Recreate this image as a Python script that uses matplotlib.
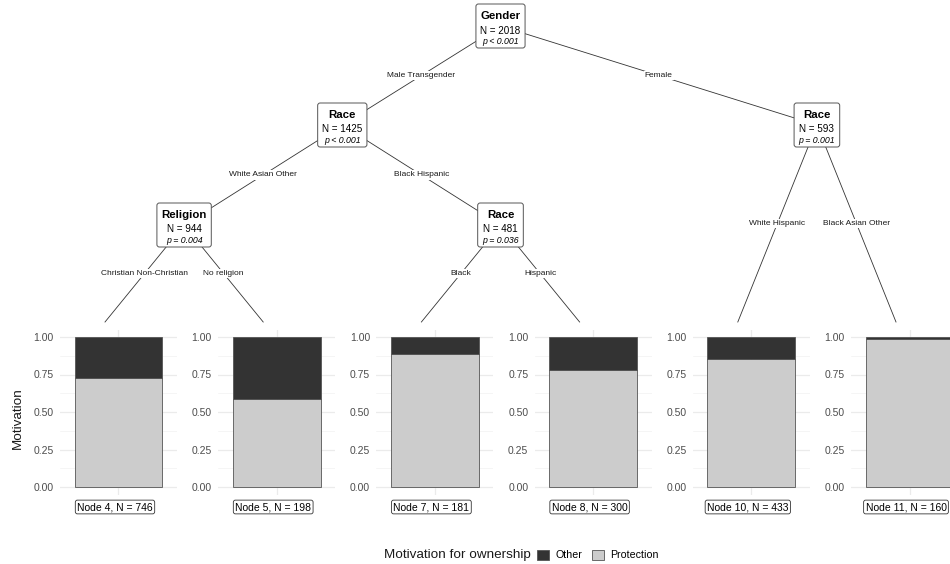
import matplotlib
matplotlib.use("Agg")
import matplotlib.pyplot as plt
from matplotlib.patches import FancyBboxPatch

plt.rcParams['font.family'] = ['Liberation Sans', 'DejaVu Sans']

# ---- tree data ----
# inner nodes: id -> (split variable, N, p-value text, children)
node_ids = [1, 2, 3, 6, 9]
node_vars = ["Gender", "Race", "Religion", "Race", "Race"]
node_n = [2018, 1425, 944, 481, 593]
node_p = ["p < 0.001", "p < 0.001", "p = 0.004", "p = 0.036", "p = 0.001"]
node_children = [(2, 9), (3, 6), (4, 5), (7, 8), (10, 11)]
edge_labels = {
    (1, 2): "Male Transgender", (1, 9): "Female",
    (2, 3): "White Asian Other", (2, 6): "Black Hispanic",
    (3, 4): "Christian Non-Christian", (3, 5): "No religion",
    (6, 7): "Black", (6, 8): "Hispanic",
    (9, 10): "White Hispanic", (9, 11): "Black Asian Other",
}

# terminal nodes
leaf_ids = [4, 5, 7, 8, 10, 11]
leaf_n = [746, 198, 181, 300, 433, 160]
share_protection = [0.730, 0.584, 0.885, 0.780, 0.853, 0.988]
share_other = [1 - s for s in share_protection]
categories = ["Other", "Protection"]
colors = {"Other": "#333333", "Protection": "#cccccc"}

yticks = [0.0, 0.25, 0.5, 0.75, 1.0]
ytick_labels = ["0.00", "0.25", "0.50", "0.75", "1.00"]

# ---- layout (pixels) ----
W, H = 950, 564
fig = plt.figure(figsize=(W / 100, H / 100), dpi=100)

panel_x0, panel_step, panel_w = 118.5, 158.2, 117.0
panel_top, panel_bot = 329.5, 494.5
level_y = {0: 26, 1: 125, 2: 225, 3: 322}
leaf_offset = -13.5


def fx(px):
    return px / W


def fy(py):
    return 1 - py / H


tree_ax = fig.add_axes([0, 0, 1, 1])
tree_ax.set_xlim(0, W)
tree_ax.set_ylim(H, 0)
tree_ax.axis("off")

# node positions
pos = {}
for i, lid in enumerate(leaf_ids):
    pos[lid] = (panel_x0 + i * panel_step + leaf_offset, level_y[3])

children = dict(zip(node_ids, node_children))


def leaf_range(nid):
    if nid in leaf_ids:
        return [pos[nid][0]]
    out = []
    for c in children[nid]:
        out += leaf_range(c)
    return out


def depth(nid, d=0, cur=1):
    if cur == nid:
        return d
    if cur in leaf_ids:
        return None
    for c in children[cur]:
        r = depth(nid, d + 1, c)
        if r is not None:
            return r
    return None


for nid in node_ids:
    xs = leaf_range(nid)
    pos[nid] = ((min(xs) + max(xs)) / 2, level_y[depth(nid)])

# edges with labels
for (a, b), lab in edge_labels.items():
    x1, y1 = pos[a]
    x2, y2 = pos[b]
    tree_ax.plot([x1, x2], [y1, y2], color="#333333", lw=0.6, zorder=1)
    tree_ax.text((x1 + x2) / 2, (y1 + y2) / 2, lab, fontsize=6, ha="center",
                 va="center", color="#1a1a1a", zorder=2,
                 bbox=dict(boxstyle="square,pad=0.15", fc="white", ec="none"))

# inner node boxes
fig.canvas.draw()
renderer = fig.canvas.get_renderer()
for nid, var, n, p in zip(node_ids, node_vars, node_n, node_p):
    x, y = pos[nid]
    t1 = tree_ax.text(x, y - 10, var, fontsize=8.2, fontweight="bold",
                      ha="center", va="center", zorder=4)
    t2 = tree_ax.text(x, y + 4.5, f"N = {n}", fontsize=7.1,
                      ha="center", va="center", zorder=4)
    t3 = tree_ax.text(x, y + 15.5, p, fontsize=6.3, style="italic",
                      ha="center", va="center", zorder=4)
    wmax = max(t.get_window_extent(renderer).width for t in (t1, t2, t3))
    bw = wmax + 9
    box = FancyBboxPatch((x - bw / 2, y - 22), bw, 44,
                         boxstyle="round,pad=0,rounding_size=2.5",
                         fc="white", ec="#555555", lw=0.7, zorder=3)
    tree_ax.add_patch(box)

# ---- terminal panels ----
legend_handles = None
for i, (lid, n, sp, so) in enumerate(zip(leaf_ids, leaf_n, share_protection, share_other)):
    cx = panel_x0 + i * panel_step
    ax = fig.add_axes([fx(cx - panel_w / 2), fy(panel_bot),
                       panel_w / W, (panel_bot - panel_top) / H])
    b1 = ax.bar([1], [sp], width=0.9, color=colors["Protection"],
                edgecolor="#555555", lw=0.6, zorder=3)
    b2 = ax.bar([1], [so], bottom=[sp], width=0.9, color=colors["Other"],
                edgecolor="#555555", lw=0.6, zorder=3)
    if legend_handles is None:
        legend_handles = [b2, b1]
    ax.set_xlim(0.4, 1.6)
    ax.set_ylim(-0.05, 1.05)
    ax.set_yticks(yticks)
    ax.set_yticklabels(ytick_labels)
    ax.set_yticks([0.125, 0.375, 0.625, 0.875], minor=True)
    ax.set_xticks([1])
    ax.set_xticklabels([])
    ax.tick_params(axis="both", which="both", length=0)
    ax.tick_params(axis="y", labelsize=7.5, labelcolor="#4d4d4d", pad=4.5)
    ax.grid(True, which="major", color="#ebebeb", lw=0.9, zorder=0)
    ax.grid(True, which="minor", axis="y", color="#f2f2f2", lw=0.5, zorder=0)
    for s in ax.spines.values():
        s.set_visible(False)
    ax.set_facecolor("none")
    fig.text(fx(cx - 3.5), fy(507), f"Node {lid}, N = {n}", fontsize=7.5,
             ha="center", va="center",
             bbox=dict(boxstyle="round,pad=0.18,rounding_size=0.2",
                       fc="white", ec="#333333", lw=0.6))

fig.text(fx(18), fy(418), "Motivation", rotation=90, fontsize=9.7,
         ha="center", va="center", color="#1a1a1a")

# legend
title = fig.text(fx(384), fy(555), "Motivation for ownership", fontsize=9.7,
                 ha="left", va="center", color="#1a1a1a")
fig.canvas.draw()
tx1 = title.get_window_extent(renderer).x1
fig.legend(legend_handles, categories, loc="center left",
           bbox_to_anchor=((tx1 + 6) / W, fy(555)), ncol=2, frameon=False,
           fontsize=7.7, handlelength=1.15, handleheight=1.15,
           handletextpad=0.55, columnspacing=0.9, borderpad=0,
           borderaxespad=0)

fig.savefig("out.png", dpi=100, facecolor="white")
